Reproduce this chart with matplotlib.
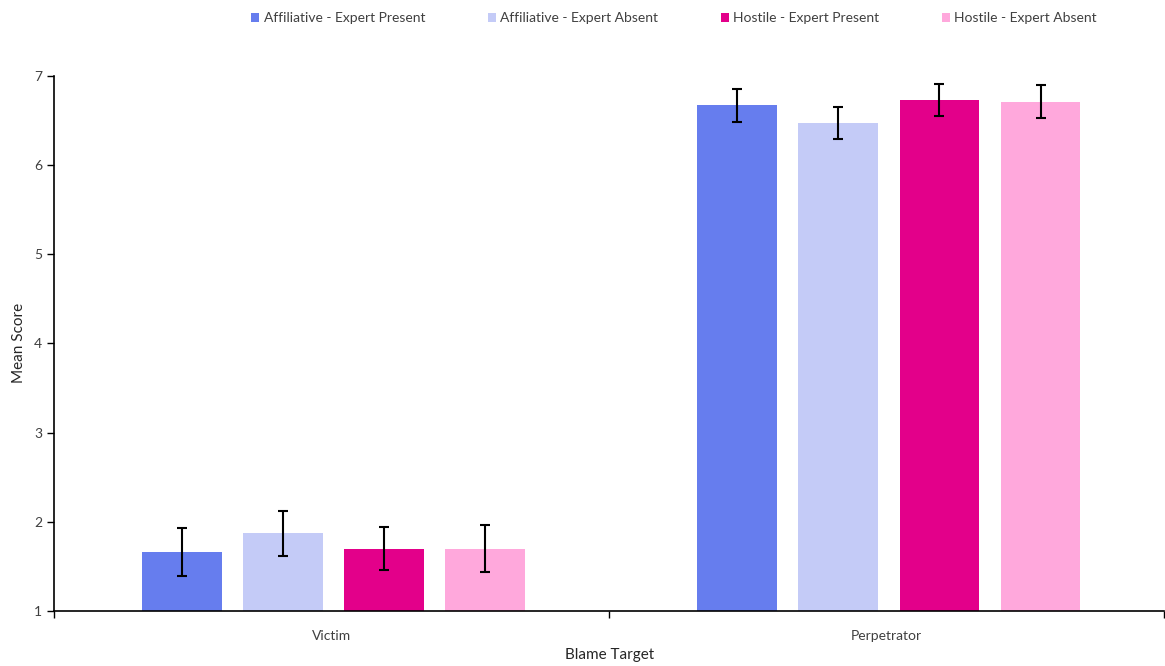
import numpy as np
from matplotlib import pyplot as plt
from matplotlib.patches import Patch


FIGSIZE = (1165, 666)
DPI = 100

plt.rcParams["font.family"] = ["Lato", "DejaVu Sans"]

targets = ["Victim", "Perpetrator"]
conditions = [
    "Affiliative - Expert Present",
    "Affiliative - Expert Absent",
    "Hostile - Expert Present",
    "Hostile - Expert Absent",
]
colors = ["#667DEE", "#C4CBF7", "#E3008A", "#FFA8DC"]

# mean score per condition, one value per blame target
means = [
    [1.66, 6.67],
    [1.87, 6.47],
    [1.70, 6.73],
    [1.70, 6.71],
]
errors = [
    [0.265, 0.185],
    [0.25, 0.18],
    [0.245, 0.175],
    [0.26, 0.185],
]

fig = plt.figure(figsize=(FIGSIZE[0]/DPI, FIGSIZE[1]/DPI), dpi=DPI)
ax = fig.add_axes([0.0464, 0.0826, 0.953, 0.8035])

x = np.arange(len(targets))
width = 0.144
step = 0.182
for i, (label, color) in enumerate(zip(conditions, colors)):
    pos = x + (i - 1.5) * step + 0.004
    ax.bar(pos, means[i], width, bottom=0, color=color, label=label, zorder=2)
    ax.errorbar(pos, means[i], yerr=errors[i], fmt="none", ecolor="black",
                elinewidth=1.5, capsize=3.5, capthick=1.5, zorder=3)

ax.set_ylim(1, 7)
ax.set_xlim(-0.5, 1.5)
ax.set_yticks(range(1, 8))
ax.set_xticks(x)
ax.set_xticklabels(targets)
ax.set_xticks([-0.5, 0.5, 1.5], minor=True)
ax.tick_params(axis="x", which="major", length=0, pad=14, labelsize=10)
ax.tick_params(axis="x", which="minor", length=5, width=1, direction="out")
ax.tick_params(axis="y", length=5, width=1, direction="out", labelsize=10)
ax.tick_params(axis="both", colors="black", labelcolor="#404040")

for side in ["top", "right"]:
    ax.spines[side].set_visible(False)
for side in ["left", "bottom"]:
    ax.spines[side].set_color("black")
    ax.spines[side].set_linewidth(1.2)

ax.set_ylabel("Mean Score", fontsize=11, color="#262626", labelpad=6)
ax.set_xlabel("Blame Target", fontsize=11, color="#262626", labelpad=4)

handles = [Patch(facecolor=c, label=l) for c, l in zip(colors, conditions)]
fig.legend(handles=handles, loc="upper center", bbox_to_anchor=(0.5785, 1.0), ncol=4,
           frameon=False, fontsize=10, handlelength=0.6, handleheight=0.6,
           handletextpad=0.3, columnspacing=4.5, labelcolor="#404040")

plt.savefig("out.png", dpi=DPI)
